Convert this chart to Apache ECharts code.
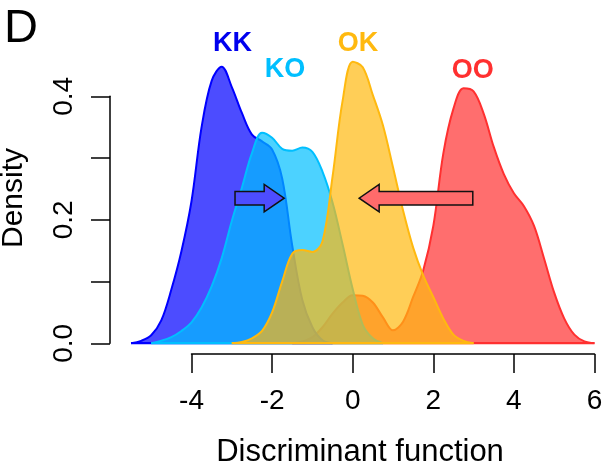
<!DOCTYPE html>
<html><head><meta charset="utf-8">
<script src="https://cdn.jsdelivr.net/npm/echarts@6/dist/echarts.min.js"></script>
<style>html,body{margin:0;padding:0;background:#fff}#c{width:606px;height:466px}</style>
</head><body><div id="c"></div>
<script>
// ---- data ----
const groups = ['KK', 'KO', 'OK', 'OO'];
const kkX = [-5.5,-5.25,-5,-4.75,-4.5,-4.25,-4,-3.75,-3.5,-3.25,-3,-2.75,-2.5,-2.25,-2,-1.75,-1.5,-1.25,-1,-0.75,-0.5];
const kkY = [0,0.004,0.013,0.037,0.087,0.149,0.23,0.35,0.425,0.448,0.415,0.373,0.338,0.327,0.314,0.267,0.158,0.07,0.026,0.005,0];
const koX = [-5,-4.75,-4.5,-4.25,-4,-3.75,-3.5,-3.25,-3,-2.75,-2.5,-2.25,-2,-1.75,-1.5,-1.25,-1,-0.75,-0.5,-0.25,0,0.25,0.5,0.75];
const koY = [0,0.004,0.01,0.02,0.034,0.058,0.092,0.138,0.198,0.252,0.308,0.341,0.333,0.315,0.312,0.317,0.31,0.278,0.228,0.16,0.088,0.03,0.008,0];
const okX = [-3,-2.75,-2.5,-2.25,-2,-1.75,-1.5,-1.25,-1,-0.75,-0.5,-0.25,0,0.25,0.5,0.75,1,1.25,1.5,1.75,2,2.25,2.5,2.75,3];
const okY = [0,0.002,0.008,0.02,0.05,0.1,0.145,0.151,0.148,0.165,0.27,0.393,0.456,0.447,0.402,0.353,0.285,0.215,0.155,0.11,0.075,0.04,0.014,0.004,0];
const ooX = [-1.5,-1.25,-1,-0.75,-0.5,-0.25,0,0.25,0.5,0.75,1,1.25,1.5,1.75,2,2.25,2.5,2.75,3,3.25,3.5,3.75,4,4.25,4.5,4.75,5,5.25,5.5,5.75,6];
const ooY = [0,0.003,0.01,0.026,0.048,0.066,0.078,0.077,0.066,0.042,0.021,0.035,0.075,0.118,0.19,0.308,0.38,0.413,0.408,0.372,0.318,0.274,0.243,0.222,0.19,0.137,0.082,0.04,0.014,0.003,0];
// group label positions [x, y]
const labelX = [-2.98, -1.68, 0.13, 2.98];
const labelY = [0.486, 0.443, 0.485, 0.441];
// arrows: from x, to x, at y
const arrowFrom = [-2.92, 2.98];
const arrowTo = [-1.70, 0.16];
const arrowY = [0.235, 0.235];
// axis ticks
const xTicks = [-4, -2, 0, 2, 4, 6];
const yTicks = [0, 0.1, 0.2, 0.3, 0.4];

// ---- styles ----
const lineCol = {KK:'#0000FF', KO:'#00BFFF', OK:'#FFB90F', OO:'#FF3030'};
const fillCol = {KK:'rgba(0,0,255,0.7)', KO:'rgba(0,191,255,0.7)', OK:'rgba(255,185,15,0.7)', OO:'rgba(255,48,48,0.7)'};
const labCol = {KK:'#0000EE', KO:'#00BFFF', OK:'#FFB90F', OO:'#FF3030'};
const arrowFill = ['#4D4DFF', '#FF6B6B'];
const FONT = '"Liberation Sans", Arial, Helvetica, sans-serif';

const zip = (xs, ys) => xs.map((x, i) => [x, ys[i]]);
const curves = {KK: zip(kkX, kkY), KO: zip(koX, koY), OK: zip(okX, okY), OO: zip(ooX, ooY)};
const drawOrder = ['OO', 'KK', 'KO', 'OK'];

const series = [];
drawOrder.forEach((g, k) => {
  const d = curves[g];
  series.push({
    type: 'line', name: g, xAxisIndex: 0, yAxisIndex: 0, z: 2 + k,
    data: d, smooth: 0.35, showSymbol: false, symbol: 'none',
    lineStyle: {color: lineCol[g], width: 2},
    areaStyle: {color: fillCol[g], opacity: 1, origin: 0},
    silent: true, animation: false
  });
  series.push({
    type: 'line', xAxisIndex: 0, yAxisIndex: 0, z: 2 + k,
    data: [[d[0][0], 0], [d[d.length - 1][0], 0]],
    showSymbol: false, symbol: 'none',
    lineStyle: {color: lineCol[g], width: 2.5},
    silent: true, animation: false
  });
});

series.push({
  type: 'custom', xAxisIndex: 0, yAxisIndex: 0, animation: false, silent: true, z: 10,
  data: arrowFrom.map((f, i) => [f, arrowTo[i], arrowY[i], i]),
  renderItem: function (params, api) {
    const p0 = api.coord([api.value(0), api.value(2)]);
    const p1 = api.coord([api.value(1), api.value(2)]);
    const dir = p1[0] > p0[0] ? 1 : -1;
    const headLen = 20, bh = 6.7, hh = 13.7;
    const hb = p1[0] - dir * headLen;
    const y = p0[1];
    return {
      type: 'polygon',
      shape: {points: [[p0[0], y - bh], [hb, y - bh], [hb, y - hh], [p1[0], y], [hb, y + hh], [hb, y + bh], [p0[0], y + bh]]},
      style: {fill: arrowFill[api.value(3)], stroke: '#111', lineWidth: 1.5, opacity: 1}
    };
  }
});

series.push({
  type: 'scatter', xAxisIndex: 0, yAxisIndex: 0, symbolSize: 0, animation: false, silent: true, z: 11,
  itemStyle: {opacity: 1},
  data: groups.map((g, i) => ({
    value: [labelX[i], labelY[i]], name: g,
    label: {show: true, position: 'inside', formatter: g, color: labCol[g], opacity: 1,
      fontSize: 27, fontWeight: 'bold', fontFamily: FONT}
  }))
});

const hidden = {show: false};
const option = {
  animation: false,
  backgroundColor: '#fff',
  grid: [
    {left: 110.9, width: 483.6, top: 34.55, height: 308.75},
    {left: 191.5, width: 403, top: 300, height: 54},
    {left: 110, width: 300, top: 96.3, height: 247}
  ],
  xAxis: [
    {gridIndex: 0, type: 'value', min: -6, max: 6, axisLine: hidden, axisTick: hidden, axisLabel: hidden, splitLine: hidden},
    {gridIndex: 1, type: 'value', min: xTicks[0], max: xTicks[xTicks.length - 1], interval: 2, position: 'bottom',
      axisLine: {show: true, lineStyle: {color: '#000', width: 1.5}},
      axisTick: {show: true, length: 19, lineStyle: {color: '#000', width: 1.5}},
      axisLabel: {show: true, margin: 33, color: '#000', fontSize: 28, fontFamily: FONT,
        formatter: v => String(v)},
      splitLine: hidden},
    {gridIndex: 2, type: 'value', show: false}
  ],
  yAxis: [
    {gridIndex: 0, type: 'value', min: 0, max: 0.5, axisLine: hidden, axisTick: hidden, axisLabel: hidden, splitLine: hidden},
    {gridIndex: 1, type: 'value', show: false},
    {gridIndex: 2, type: 'value', min: yTicks[0], max: yTicks[yTicks.length - 1], interval: 0.1, position: 'left',
      axisLine: {show: true, lineStyle: {color: '#000', width: 1.5}},
      axisTick: {show: true, length: 19, lineStyle: {color: '#000', width: 1.5}},
      axisLabel: {show: true, rotate: 90, margin: 32, color: '#000', fontSize: 28, fontFamily: FONT,
        formatter: v => (Math.round(v * 10) % 2 === 0 ? v.toFixed(1) : '')},
      splitLine: hidden}
  ],
  graphic: [
    {type: 'text', left: 4, top: 6, style: {text: 'D', fontSize: 47, fontFamily: FONT, fill: '#000'}},
    {type: 'text', x: 14, y: 198, rotation: Math.PI / 2,
      style: {text: 'Density', fontSize: 30, fontFamily: FONT, fill: '#000', align: 'center', verticalAlign: 'middle'}},
    {type: 'text', x: 360, y: 452,
      style: {text: 'Discriminant function', fontSize: 31, fontFamily: FONT, fill: '#000', align: 'center', verticalAlign: 'middle'}}
  ],
  series: series
};
const chart = echarts.init(document.getElementById('c'), null, {renderer: 'canvas'});
chart.setOption(option);
</script></body></html>
